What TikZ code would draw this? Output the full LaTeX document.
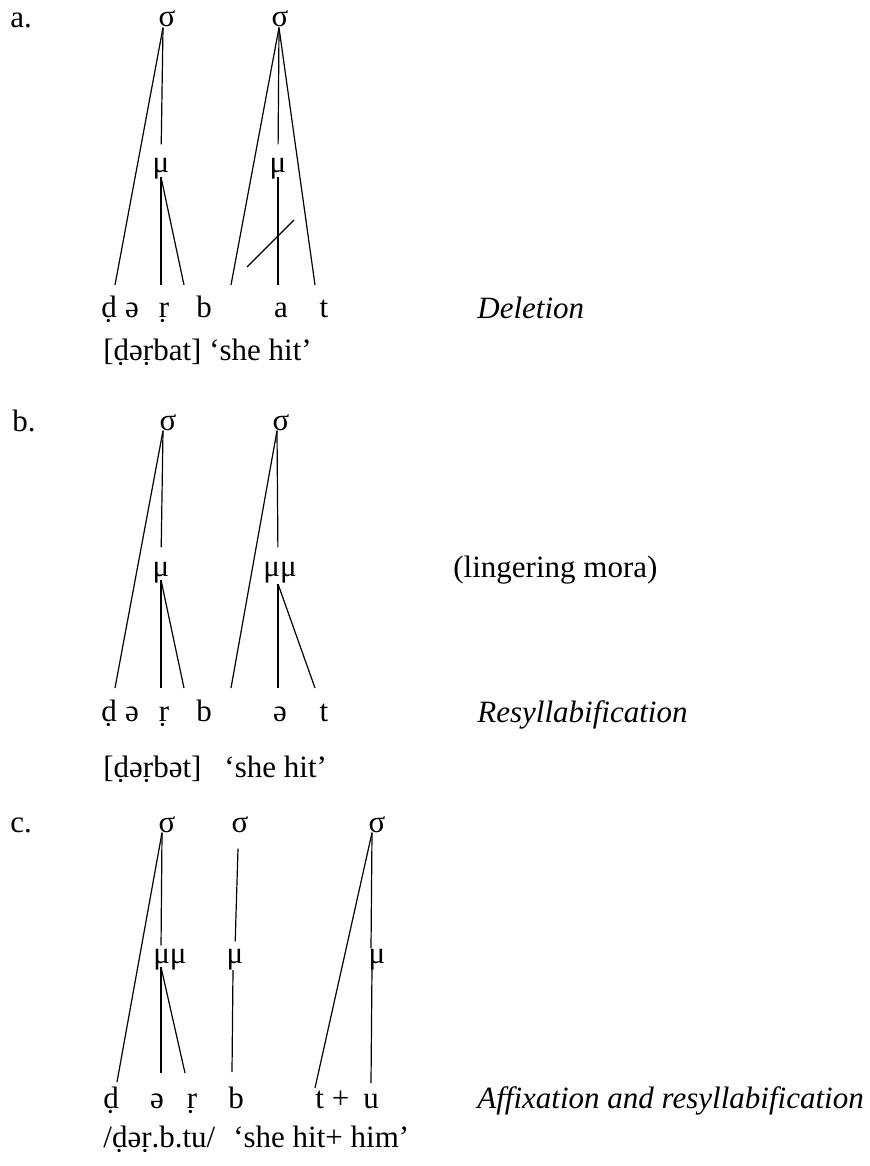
\documentclass[tikz,border=0pt]{standalone}
\usepackage{fontspec}
\setmainfont{Liberation Serif}
\newfontfamily\glossfont{Liberation Serif}

\begin{document}
\begin{tikzpicture}[x=0.5pt,y=-0.5pt,
    every node/.style={inner sep=0pt,font=\glossfont\fontsize{15.5}{18}\selectfont},
    txt/.style={anchor=base west},
    seg/.style={anchor=base},
    tie/.style={line width=0.6pt}]
        \useasboundingbox (0,0) rectangle (869,1166);

        % a. deletion
        \node[txt] (la) at (10,28) {a.};
        \node[seg] (sa1) at (167,27) {σ};
        \node[seg] (sa2) at (280,27) {σ};
        \node[seg] (ma1) at (161,173) {μ};
        \node[seg] (ma2) at (278,173) {μ};
        \node[seg] (a1) at (109,317) {ḍ};
        \node[seg] (a2) at (132,317) {ə};
        \node[seg] (a3) at (164,317) {ṛ};
        \node[seg] (a4) at (204,317) {b};
        \node[seg] (a5) at (281,317) {a};
        \node[seg] (a6) at (324,317) {t};
        \node[txt] (ga) at (103,360) {[ḍəṛbat] ‘she hit’};
        \node[txt] (pa) at (477,318) {\itshape Deletion};

        \coordinate (fa1) at (115,285);
        \coordinate (fa2) at (161,285);
        \coordinate (fa3) at (184,285);
        \coordinate (fa4) at (231,285);
        \coordinate (fa5) at (278,285);
        \coordinate (fa6) at (315,285);

        \draw[tie] ([xshift=-2pt]sa1.south) -- (fa1);
        \draw[tie,shorten >=7pt] ([xshift=-2pt]sa1.south) -- (ma1.north);
        \draw[tie] ([yshift=-2pt]ma1.base) -- (fa2);
        \draw[tie] ([yshift=-2pt]ma1.base) -- (fa3);
        \draw[tie] ([xshift=-0.5pt]sa2.south) -- (fa4);
        \draw[tie] ([xshift=-0.5pt]sa2.south) -- (fa6);
        \draw[tie,shorten >=7pt] ([xshift=-0.5pt]sa2.south) -- (ma2.north);
        \draw[tie] ([yshift=-2pt]ma2.base) -- (fa5);
        \draw[tie] (247,267) -- (294,220);

        % b. resyllabification
        \node[txt] (lb) at (12,431) {b.};
        \node[seg] (sb1) at (168,430) {σ};
        \node[seg] (sb2) at (281,430) {σ};
        \node[seg] (mb1) at (161,576) {μ};
        \node[seg] (mb2) at (280,576) {μμ};
        \node[seg] (b1) at (109,721) {ḍ};
        \node[seg] (b2) at (132,721) {ə};
        \node[seg] (b3) at (164,721) {ṛ};
        \node[seg] (b4) at (204,721) {b};
        \node[seg] (b5) at (280,721) {ə};
        \node[seg] (b6) at (324,721) {t};
        \node[txt] (gb) at (103,777) {[ḍəṛbət]\hspace{11.5pt}‘she hit’};
        \node[txt] (nb) at (453,577) {(lingering mora)};
        \node[txt] (pb) at (477,722) {\itshape Resyllabification};

        \coordinate (fb1) at (115,688);
        \coordinate (fb2) at (161,688);
        \coordinate (fb3) at (184,688);
        \coordinate (fb4) at (231,688);
        \coordinate (fb5) at (278,688);
        \coordinate (fb6) at (315,688);

        \draw[tie] ([xshift=-2.5pt]sb1.south) -- (fb1);
        \draw[tie,shorten >=7pt] ([xshift=-2.5pt]sb1.south) -- (mb1.north);
        \draw[tie] ([yshift=-2pt]mb1.base) -- (fb2);
        \draw[tie] ([yshift=-2pt]mb1.base) -- (fb3);
        \draw[tie] ([xshift=-2pt]sb2.south) -- (fb4);
        \draw[tie,shorten >=7pt] ([xshift=-2pt]sb2.south) -- ([xshift=-1pt]mb2.north);
        \draw[tie] ([xshift=-1pt,yshift=-4pt]mb2.base) -- (fb5);
        \draw[tie] ([xshift=-1pt,yshift=-4pt]mb2.base) -- (fb6);

        % c. affixation
        \node[txt] (lc) at (10,832) {c.};
        \node[seg] (sc1) at (167,832) {σ};
        \node[seg] (sc2) at (240,832) {σ};
        \node[seg] (sc3) at (377,832) {σ};
        \node[seg] (mc1) at (170,963) {μμ};
        \node[seg] (mc2) at (235,963) {μ};
        \node[seg] (mc3) at (377,963) {μ};
        \node[seg] (c1) at (111,1108) {ḍ};
        \node[seg] (c2) at (157,1108) {ə};
        \node[seg] (c3) at (192,1108) {ṛ};
        \node[seg] (c4) at (236,1108) {b};
        \node[txt] (c5) at (315,1108) {t +};
        \node[seg] (c6) at (371,1108) {u};
        \node[txt] (gc) at (103,1147) {/ḍəṛ.b.tu/\hspace{9pt}‘she hit+ him’};
        \node[txt] (pc) at (477,1108) {\itshape Affixation and resyllabification};

        \coordinate (fc1) at (117,1082);
        \coordinate (fc2) at (161,1073);
        \coordinate (fc3) at (185,1073);
        \coordinate (fc4) at (232,1072);
        \coordinate (fc5) at (315,1088);
        \coordinate (fc6) at (371,1083);

        \draw[tie] ([xshift=-2.5pt]sc1.south) -- (fc1);
        \draw[tie,shorten >=1.5pt] ([xshift=-2.5pt]sc1.south) -- ([xshift=-4.5pt]mc1.north);
        \draw[tie] ([xshift=-4.5pt,yshift=-2pt]mc1.base) -- (fc2);
        \draw[tie] ([xshift=-4.5pt,yshift=-2pt]mc1.base) -- (fc3);
        \draw[tie,shorten >=3.5pt] ([xshift=-1pt,yshift=-8pt]sc2.south) -- (mc2.north);
        \draw[tie] ([xshift=-1pt,yshift=-3.5pt]mc2.base) -- (fc4);
        \draw[tie] ([xshift=-2.5pt]sc3.south) -- (fc5);
        \draw[tie] ([xshift=-2.5pt]sc3.south) -- ([xshift=-3pt]mc3.north);
        \draw[tie] ([xshift=-2.5pt,yshift=-2pt]mc3.base) -- (fc6);

    \end{tikzpicture}
\end{document}
